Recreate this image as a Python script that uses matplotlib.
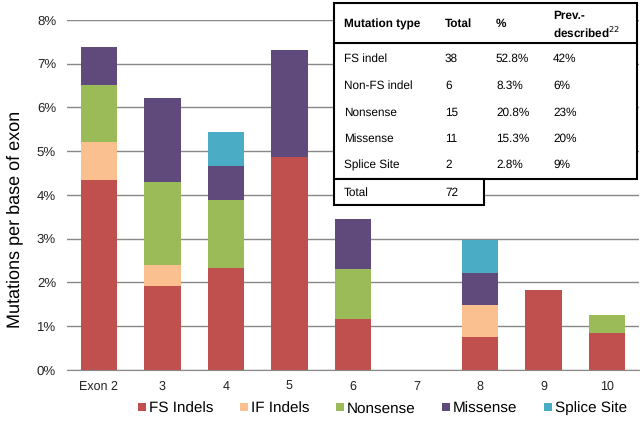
import numpy as np
import matplotlib.pyplot as plt
from matplotlib.patches import Rectangle

plt.rcParams['font.family'] = ['Liberation Sans', 'DejaVu Sans']
plt.rcParams['text.hinting'] = 'no_hinting'

exons = ["Exon 2", "3", "4", "5", "6", "7", "8", "9", "10"]
fs_indels = [4.34, 1.92, 2.33, 4.87, 1.16, 0, 0.74, 1.82, 0.83]
if_indels = [0.87, 0.47, 0, 0, 0, 0, 0.74, 0, 0]
nonsense = [1.30, 1.91, 1.55, 0, 1.14, 0, 0, 0, 0.43]
missense = [0.87, 1.91, 0.77, 2.44, 1.15, 0, 0.73, 0, 0]
splice = [0, 0, 0.78, 0, 0, 0, 0.75, 0, 0]

series = [("FS Indels", fs_indels, "#C0504D"),
          ("IF Indels", if_indels, "#FAC090"),
          ("Nonsense", nonsense, "#9BBB59"),
          ("Missense", missense, "#604A7B"),
          ("Splice Site", splice, "#4BACC6")]

tbl_header = ["Mutation type", "Total", "%", "Prev.-"]
tbl_types = ["FS indel", "Non-FS indel", "Nonsense", "Missense", "Splice Site"]
tbl_totals = [38, 6, 15, 11, 2]
tbl_pct = ["52.8%", "8.3%", "20.8%", "15.3%", "2.8%"]
tbl_prev = ["42%", "6%", "23%", "20%", "9%"]
tbl_sum = 72

fig = plt.figure(figsize=(6.4, 4.3), dpi=100)
ax = fig.add_axes([0.105, 0.14, 0.893, 0.814])

x = np.arange(len(exons))
bottom = np.zeros(len(exons))
for name, vals, col in series:
    v = np.array(vals) / 100
    ax.bar(x, v, 0.575, bottom=bottom, color=col, label=name, zorder=2)
    bottom += v

ax.set_xlim(-0.5, len(exons) - 0.5)
ax.set_ylim(0, 0.08)
ax.set_yticks(np.arange(0, 0.081, 0.01))
ax.set_yticklabels([f"{i}%" for i in range(9)], fontsize=9.5, color="#222222")
ax.set_xticks(x)
ax.set_xticklabels(exons, fontsize=9, color="#222222")
ax.tick_params(length=0, pad=8)
ax.grid(axis="y", color="#888888", linewidth=1, zorder=0)
for s in ["top", "right", "left"]:
    ax.spines[s].set_visible(False)
ax.spines["bottom"].set_color("#888888")
ax.set_ylabel("Mutations per base of exon", fontsize=13)
ax.yaxis.set_label_coords(-0.077, 0.43)

fig.legend(*ax.get_legend_handles_labels(), loc="center", bbox_to_anchor=(0.598, 0.05),
           ncol=5, frameon=False, fontsize=11, handlelength=0.5, handleheight=0.5,
           handletextpad=0.2, columnspacing=1.75)

# table overlay in pixel coordinates
ov = fig.add_axes([0, 0, 1, 1])
ov.set_xlim(0, 640)
ov.set_ylim(430, 0)
ov.axis("off")
ov.add_patch(Rectangle((334, 3), 303, 176, facecolor="white", edgecolor="black", lw=1.5))
ov.add_patch(Rectangle((334, 179), 150, 26, facecolor="white", edgecolor="black", lw=1.5))
ov.plot([334, 637], [43, 43], color="black", lw=1.5)

cols = [344, 445, 496, 553]
for cx, h in zip(cols[:3], tbl_header[:3]):
    ov.text(cx, 24, h, fontsize=8.5, fontweight="bold", va="center", ha="left")
ov.text(cols[3], 16, tbl_header[3], fontsize=8.5, fontweight="bold", va="center", ha="left")
ov.text(cols[3], 32, "described$^{22}$", fontsize=8.5, fontweight="bold", va="center", ha="left")
rows_y = [59, 86, 113, 139, 165]
for y, t, n, p, pr in zip(rows_y, tbl_types, tbl_totals, tbl_pct, tbl_prev):
    for cx, s in zip(cols, [t, str(n), p, pr]):
        ov.text(cx, y, s, fontsize=8.5, va="center", ha="left")
ov.text(cols[0], 193, "Total", fontsize=8.5, va="center", ha="left")
ov.text(cols[1], 193, str(tbl_sum), fontsize=8.5, va="center", ha="left")

fig.savefig("out.png", dpi=100)
